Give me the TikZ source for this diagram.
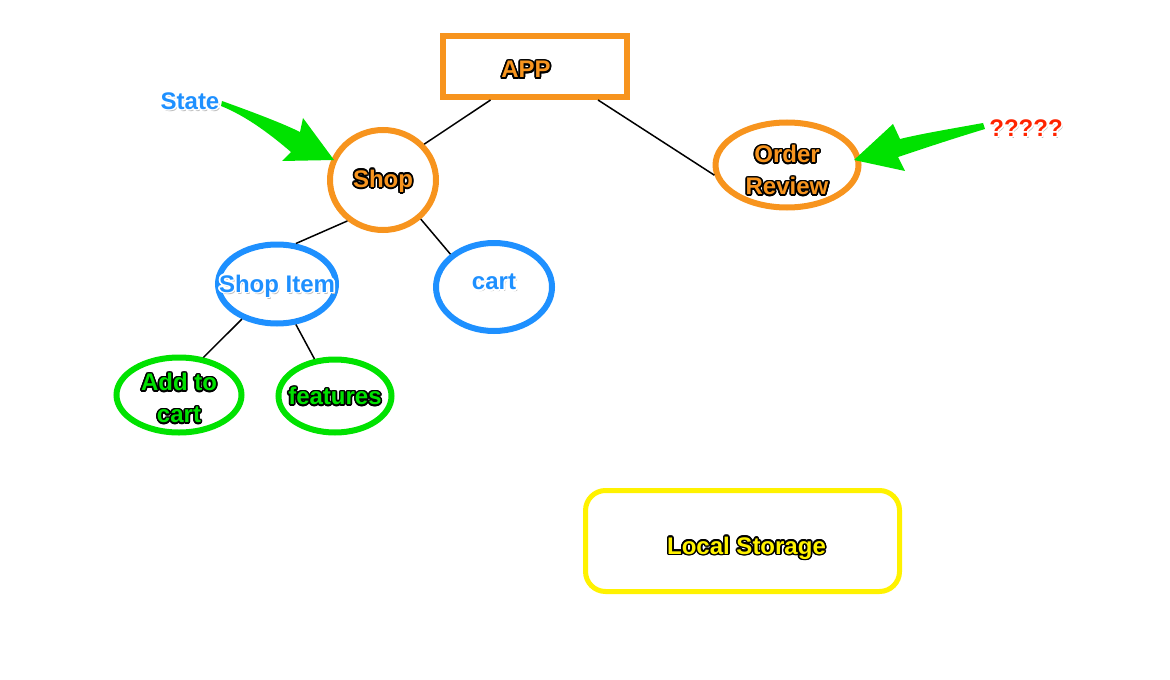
\documentclass[tikz,border=0pt]{standalone}
\usepackage{fontspec}
\setmainfont{Liberation Sans}
\usepackage{contour}
\contourlength{0.8pt}
\usetikzlibrary{shapes.geometric}
\definecolor{appOrange}{RGB}{247,148,30}
\definecolor{itemBlue}{RGB}{30,144,255}
\definecolor{leafGreen}{RGB}{0,226,0}
\definecolor{storeYellow}{RGB}{255,242,0}
\definecolor{askRed}{RGB}{255,36,0}
% outlined text: dark rim, or white rim with a soft shadow
\newcommand{\darktext}[2]{{\bfseries\color{#1}\contour{black}{#2}}}
\newcommand{\lighttext}[2]{{\bfseries\rlap{\hspace{0.8pt}\raisebox{-0.9pt}{\color{black!25}#2}}\color{#1}\contour{white}{#2}}}
\begin{document}
\begin{tikzpicture}[x=0.5pt,y=-0.5pt,font=\fontsize{12pt}{14pt}\selectfont,
  bubble/.style={ellipse,draw=#1,line width=3pt,inner sep=0pt},
  link/.style={draw=black,line width=0.75pt},
  pointer/.style={fill=leafGreen,draw=none}]
\useasboundingbox (0,0) rectangle (1170,679);
% the top box
\node[draw=appOrange,line width=3pt,inner sep=0pt,minimum width=92pt,minimum height=30.5pt,
  label={[xshift=-4.5pt,yshift=-2pt]center:\darktext{appOrange}{APP}}] (app) at (535,66.5) {};
% second row
\node[bubble=appOrange,minimum width=53pt,minimum height=50pt,
  label={[yshift=-1pt]center:\darktext{appOrange}{Shop}}] (shop) at (383,180) {};
\node[bubble=appOrange,minimum width=71.5pt,minimum height=42.5pt,
  label={[align=center,yshift=-3pt]center:\darktext{appOrange}{Order}\\[2pt]\darktext{appOrange}{Review}}] (order) at (787,165) {};
% third row
\node[bubble=itemBlue,minimum width=59pt,minimum height=39.5pt,
  label={[yshift=-1.5pt]center:\lighttext{itemBlue}{Shop Item}}] (item) at (277,284) {};
\node[bubble=itemBlue,minimum width=58pt,minimum height=44pt,
  label={[yshift=2pt]center:\lighttext{itemBlue}{cart}}] (cart) at (494,287) {};
% leaves
\node[bubble=leafGreen,minimum width=62.5pt,minimum height=37.5pt,
  label={[align=center,yshift=-2pt]center:\darktext{leafGreen}{Add to}\\[2pt]\darktext{leafGreen}{cart}}] (addcart) at (179,395) {};
\node[bubble=leafGreen,minimum width=56.5pt,minimum height=36.5pt,
  label={[yshift=-0.5pt]center:\darktext{leafGreen}{features}}] (features) at (335,396) {};
% storage
\node[draw=storeYellow,line width=2.5pt,rounded corners=10pt,inner sep=0pt,
  minimum width=157pt,minimum height=50.5pt,
  label={[xshift=2pt,yshift=-4pt]center:\darktext{storeYellow}{Local Storage}}] (storage) at (742.5,541) {};
% the tree lines
\draw[link] (app.217) -- (shop.41);
\draw[link] (app.-28) -- (order.188);
\draw[link] (shop.229) -- (item.65);
\draw[link] (shop.314) -- (cart.143);
\draw[link] (item.225) -- (addcart.57);
\draw[link] (item.295) -- (features.119);
% notes and their arrows
\node (state) at (190,102) {\lighttext{itemBlue}{State}};
\node (ask) at (1026,129) {\lighttext{askRed}{?????}};
\fill[pointer] (222,101) .. controls (258,114) and (284,124) .. (300,132) -- (303,118)
  -- (334,160) -- (282,161) -- (291,152) .. controls (270,134) and (246,116) .. (221,106) -- cycle;
\fill[pointer] (983,123) .. controls (950,129) and (920,134) .. (900,139) -- (893,124)
  -- (854,160) -- (905,171) -- (898,157) .. controls (925,148) and (955,138) .. (985,129) -- cycle;
\end{tikzpicture}
\end{document}
